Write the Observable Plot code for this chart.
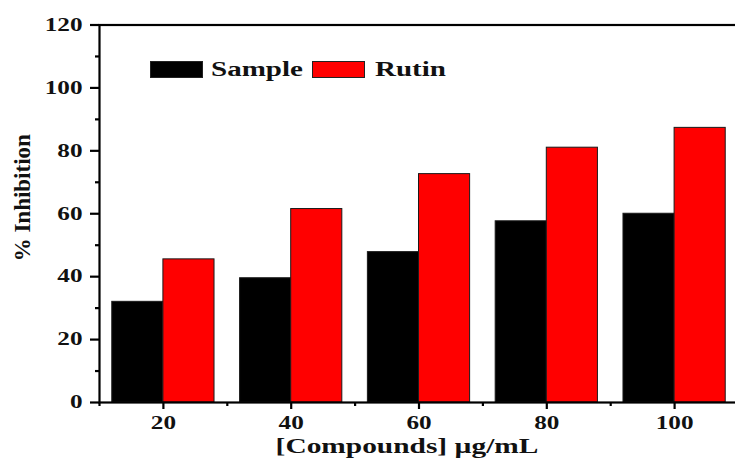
<!DOCTYPE html>
<html>
<head>
<meta charset="utf-8">
<script src="https://cdn.jsdelivr.net/npm/d3@7"></script>
<script src="https://cdn.jsdelivr.net/npm/@observablehq/plot@0.6"></script>
<style>
  html, body { margin: 0; padding: 0; background: #ffffff; }
  #chart { position: relative; width: 735px; height: 458px; overflow: hidden; }
  #chart svg text { font-family: "Liberation Serif", "Times New Roman", serif; font-weight: bold; fill: #111; }
  .legend { position: absolute; left: 150px; top: 58px; display: flex; align-items: center;
            font-family: "Liberation Serif", "Times New Roman", serif; font-weight: bold; font-size: 20px; color: #111; }
  .sw { width: 53px; height: 17px; box-sizing: border-box; border: 1px solid #222; }
  .lab { display: inline-block; overflow: visible; white-space: nowrap; }
  .lab span { display: inline-block; transform: scaleX(1.45); transform-origin: left center; }
</style>
</head>
<body>
<div id="chart"></div>
<script>
// ---- data ----
const concentrations = [20, 40, 60, 80, 100];
const sampleValues = [32, 39.5, 47.8, 57.6, 60];
const rutinValues = [45.5, 61.5, 72.6, 81, 87.3];
const seriesNames = ["Sample", "Rutin"];
const seriesColors = ["#000000", "#ff0000"];
const yTicks = [0, 20, 40, 60, 80, 100, 120];
const yMinorTicks = [10, 30, 50, 70, 90, 110];
const xTicks = [20, 40, 60, 80, 100];
const xMinorTicks = [10, 30, 50, 70, 90, 110];
const xTitle = "[Compounds] \u00b5g/mL";
const yTitle = "% Inhibition";

const barWidth = 8;
const rows = [];
concentrations.forEach((c, i) => {
  rows.push({series: seriesNames[0], conc: c, x1: c - barWidth, x2: c, value: sampleValues[i]});
  rows.push({series: seriesNames[1], conc: c, x1: c, x2: c + barWidth, value: rutinValues[i]});
});

const chart = Plot.plot({
  width: 735,
  height: 458,
  marginLeft: 99,
  marginRight: -3,
  marginTop: 24.5,
  marginBottom: 56,
  style: {background: "#ffffff", fontSize: "18px", overflow: "visible"},
  x: {type: "linear", domain: [10, 110]},
  y: {domain: [0, 120]},
  color: {domain: seriesNames, range: seriesColors},
  marks: [
    Plot.rectY(rows, {x1: "x1", x2: "x2", y1: 0, y2: "value", fill: "series", stroke: "#1a1a1a", strokeWidth: 1}),
    Plot.frame({stroke: "#000", strokeWidth: 2.2}),
    Plot.axisY(yTicks, {tickSize: 9, tickPadding: 8, strokeWidth: 2.2, label: null, fontSize: 18}),
    Plot.axisY(yMinorTicks, {tickSize: 4, tickFormat: () => "", strokeWidth: 2.2, label: null}),
    Plot.axisX(xTicks, {tickSize: 7, tickPadding: 7, strokeWidth: 2.2, label: null, fontSize: 18}),
    Plot.axisX(xMinorTicks, {tickSize: 4, tickFormat: () => "", strokeWidth: 2.2, label: null}),
    Plot.text([xTitle], {frameAnchor: "bottom", lineAnchor: "bottom", dy: 50, dx: -12, fontSize: 21, text: d => d}),
    Plot.text([yTitle], {frameAnchor: "left", textAnchor: "middle", rotate: -90, dx: -77, dy: -16, fontSize: 23, text: d => d})
  ]
});

const holder = document.getElementById("chart");
holder.appendChild(chart);

// horizontally stretched lettering, as in the reference
chart.querySelectorAll("text").forEach(t => {
  const tr = (t.getAttribute("transform") || "") + (t.parentNode.getAttribute("transform") || "");
  if (tr.includes("rotate")) return;
  if (!t.textContent.trim()) return;
  const L = t.getComputedTextLength();
  t.setAttribute("textLength", (L * 1.4).toFixed(1));
  t.setAttribute("lengthAdjust", "spacingAndGlyphs");
});

// legend
const legend = document.createElement("div");
legend.className = "legend";
const labelWidths = [93, 70];
const gaps = [8, 10];
seriesNames.forEach((name, i) => {
  const sw = document.createElement("div");
  sw.className = "sw";
  sw.style.background = seriesColors[i];
  if (i > 0) sw.style.marginLeft = "8px";
  const lab = document.createElement("div");
  lab.className = "lab";
  lab.style.width = labelWidths[i] + "px";
  lab.style.marginLeft = gaps[i] + "px";
  const sp = document.createElement("span");
  sp.textContent = name;
  lab.appendChild(sp);
  legend.appendChild(sw);
  legend.appendChild(lab);
});
holder.appendChild(legend);
</script>
</body>
</html>
